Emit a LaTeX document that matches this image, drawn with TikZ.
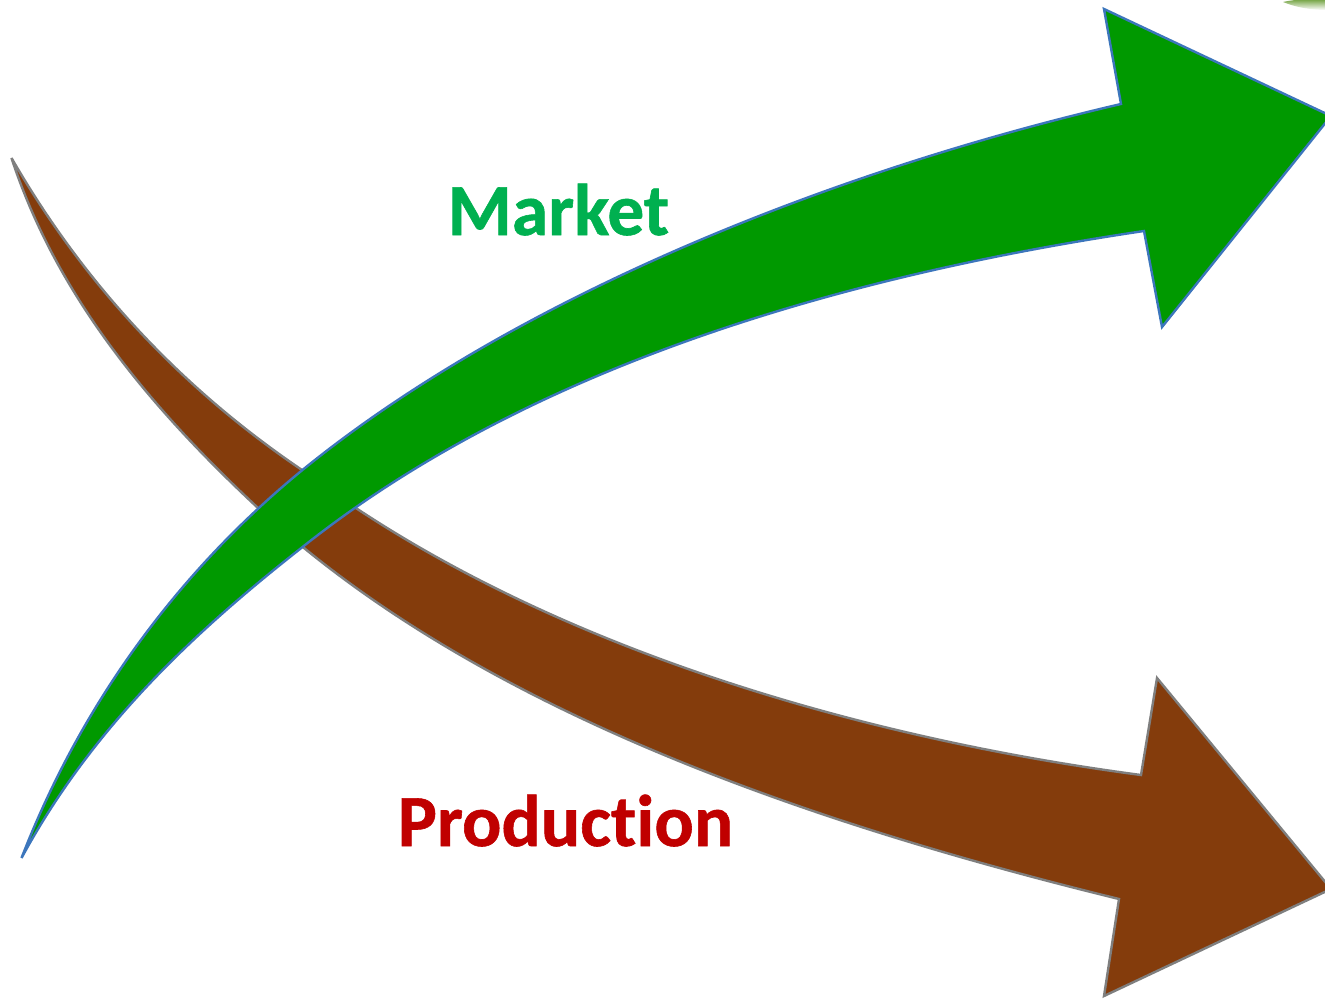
\documentclass[tikz,border=0pt]{standalone}
\usepackage{fontspec}
\setmainfont{Carlito}[Ligatures=NoCommon]
\definecolor{brownfill}{HTML}{843C0C}
\definecolor{greenfill}{HTML}{009900}
\definecolor{blueedge}{HTML}{3C76BC}
\definecolor{greyedge}{HTML}{7F7F7F}
\definecolor{markettext}{HTML}{00B050}
\definecolor{prodtext}{HTML}{C00000}
\definecolor{smudge}{HTML}{6FA03C}
\tikzset{
  brownarrow/.style={fill=brownfill,draw=greyedge,line width=1.8pt,line join=miter,miter limit=4},
  greenarrow/.style={fill=greenfill,draw=blueedge,line width=1.8pt,line join=miter,miter limit=4},
  label/.style={font=\bfseries\fontsize{55}{55}\selectfont\addfontfeature{FakeBold=0.8},inner sep=0pt,anchor=base}
}
\begin{document}
\begin{tikzpicture}[x=0.75pt,y=-0.75pt]
\useasboundingbox (0,0) rectangle (1325,999);
\begin{scope}
\clip (0,0) rectangle (1325,999);
\shade[top color=smudge,bottom color=white] (1283,2) .. controls (1295,-1) and (1315,-1) .. (1327,-1) -- (1327,10) .. controls (1310,10) and (1295,7) .. (1283,2) -- cycle;
\draw[brownarrow] (11.5,158)
  .. controls (84,284) and (181,388) .. (302,470)
  .. controls (528,640) and (846,736) .. (1141,775)
  -- (1157,678) -- (1331,889) -- (1104,996) -- (1119,899)
  .. controls (813,824) and (477,711) .. (258,508)
  .. controls (151,408) and (57,297) .. (11.5,158) -- cycle;
\draw[greenarrow] (21.5,858)
  .. controls (80,707) and (175,575) .. (300,472)
  .. controls (509,301) and (824,173) .. (1121,104)
  -- (1104,9) -- (1331,116) -- (1162,327) -- (1144,231)
  .. controls (847,275) and (530,365) .. (300,549)
  .. controls (192,634) and (92,728) .. (21.5,858) -- cycle;
\end{scope}
\node[label,text=markettext] (market) at (558.5,235) {Market};
\node[label,text=prodtext] (production) at (565.5,846) {Production};
\end{tikzpicture}
\end{document}
